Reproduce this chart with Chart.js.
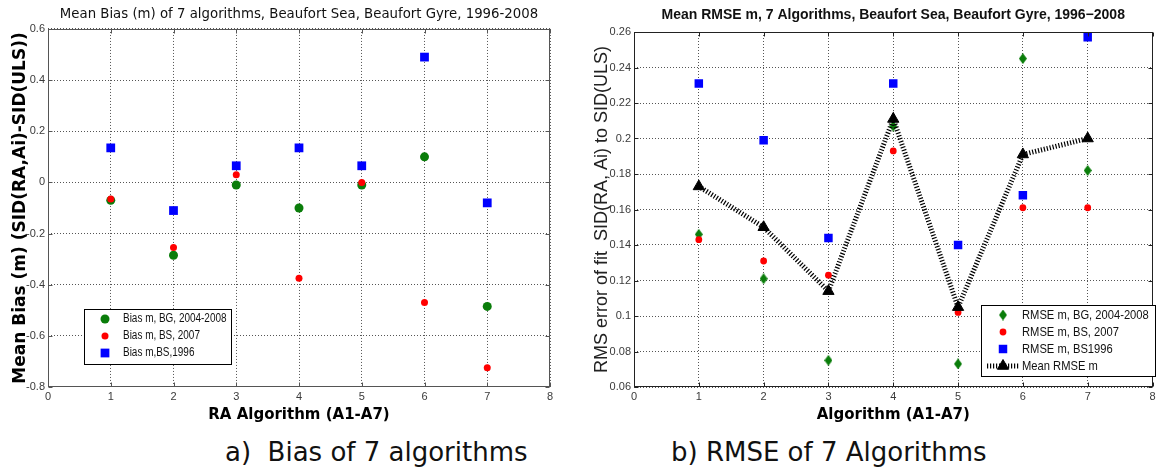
<!DOCTYPE html>
<html lang="en">
<head>
    <meta charset="UTF-8">
    <title>Mean Bias and RMSE of 7 algorithms - Beaufort Sea</title>
    <script src="https://cdn.jsdelivr.net/npm/chart.js"></script>
    <style>
        body { margin: 0; background: #fff; width: 1160px; height: 468px; overflow: hidden; position: relative; }
        #biasBox { position: absolute; left: 0; top: 0; width: 560px; height: 430px; }
        #rmseBox { position: absolute; left: 570px; top: 0; width: 590px; height: 430px; }
        .caption { position: absolute; top: 437px; font-family: "DejaVu Sans", sans-serif; font-size: 26px; line-height: 30px; color: #111; white-space: pre; }
    </style>
</head>
<body>
    <div id="biasBox"><canvas id="biasChart"></canvas></div>
    <div id="rmseBox"><canvas id="rmseChart"></canvas></div>
    <div class="caption" style="left:225px">a)  Bias of 7 algorithms</div>
    <div class="caption" style="left:671px">b) RMSE of 7 Algorithms</div>
    <script>
        // values
        const algorithms = [1, 2, 3, 4, 5, 6, 7];
        const xTicks = [0, 1, 2, 3, 4, 5, 6, 7, 8];

        const biasBG = [-0.07, -0.285, -0.01, -0.10, -0.01, 0.10, -0.485];
        const biasBS2007 = [-0.065, -0.255, 0.03, -0.375, 0.0, -0.47, -0.725];
        const biasBS1996 = [0.135, -0.11, 0.065, 0.135, 0.065, 0.49, -0.08];
        const biasTicks = [-0.8, -0.6, -0.4, -0.2, 0, 0.2, 0.4, 0.6];

        const rmseBG = [0.146, 0.121, 0.075, 0.207, 0.073, 0.245, 0.182];
        const rmseBS2007 = [0.143, 0.131, 0.123, 0.193, 0.102, 0.161, 0.161];
        const rmseBS1996 = [0.231, 0.199, 0.144, 0.231, 0.140, 0.168, 0.257];
        const rmseMean = [0.173, 0.150, 0.114, 0.211, 0.105, 0.191, 0.200];
        const rmseTicks = [0.06, 0.08, 0.1, 0.12, 0.14, 0.16, 0.18, 0.2, 0.22, 0.24, 0.26];

        const GREEN = '#0a7d0a', RED = '#ff0000', BLUE = '#0000ff';
        const tickFont = { family: '"Liberation Sans", sans-serif', size: 11 };

        function pts(values) {
            return algorithms.map((a, i) => ({ x: a, y: values[i] }));
        }

        function makeDiamond(w, h, color) {
            const c = document.createElement('canvas');
            c.width = w; c.height = h;
            const g = c.getContext('2d');
            g.fillStyle = color;
            g.beginPath();
            g.moveTo(w / 2, 0); g.lineTo(w, h / 2); g.lineTo(w / 2, h); g.lineTo(0, h / 2);
            g.closePath(); g.fill();
            return c;
        }

        // solid frame round the plot with small inward ticks, like matlab
        const framePlugin = {
            id: 'frame',
            afterDraw(chart, args, opts) {
                const { ctx, chartArea: a, scales } = chart;
                const L = Math.round(a.left) + 0.5, T = Math.round(a.top) + 0.5;
                const R = Math.round(a.right) - 0.5, B = Math.round(a.bottom) - 0.5;
                ctx.save();
                ctx.strokeStyle = opts.color;
                ctx.lineWidth = 1;
                ctx.strokeRect(L, T, R - L, B - T);
                ctx.beginPath();
                scales.x.ticks.forEach(t => {
                    const px = Math.round(scales.x.getPixelForValue(t.value)) + 0.5;
                    ctx.moveTo(px, B); ctx.lineTo(px, B - 4);
                    ctx.moveTo(px, T); ctx.lineTo(px, T + 4);
                });
                scales.y.ticks.forEach(t => {
                    const py = Math.round(scales.y.getPixelForValue(t.value)) + 0.5;
                    ctx.moveTo(L, py); ctx.lineTo(L + 4, py);
                    ctx.moveTo(R, py); ctx.lineTo(R - 4, py);
                });
                ctx.stroke();
                ctx.restore();
            }
        };

        // boxed legend inside the plot; text squeezed to look like a narrow font
        const boxLegend = {
            id: 'boxLegend',
            afterDraw(chart, args, o) {
                const ctx = chart.ctx;
                ctx.save();
                ctx.fillStyle = '#fff';
                ctx.fillRect(o.x, o.y, o.w, o.h);
                ctx.strokeStyle = '#000';
                ctx.lineWidth = 1;
                ctx.strokeRect(o.x + 0.5, o.y + 0.5, o.w, o.h);
                ctx.font = o.font;
                ctx.textBaseline = 'middle';
                ctx.textAlign = 'left';
                chart.data.datasets.forEach((ds, i) => {
                    const y = o.y + o.first + i * o.row;
                    if (ds.showLine) {
                        ctx.save();
                        ctx.strokeStyle = ds.borderColor;
                        ctx.lineWidth = ds.borderWidth;
                        ctx.setLineDash(ds.borderDash);
                        ctx.beginPath();
                        ctx.moveTo(o.lineX0, y); ctx.lineTo(o.lineX1, y);
                        ctx.stroke();
                        ctx.restore();
                    }
                    ctx.fillStyle = ds.backgroundColor;
                    ctx.strokeStyle = ds.borderColor;
                    Chart.helpers.drawPoint(ctx, {
                        pointStyle: ds.pointStyle, radius: ds.pointRadius, rotation: 0,
                        borderWidth: ds.pointBorderWidth || 0
                    }, o.markX, y);
                    ctx.save();
                    ctx.fillStyle = '#111';
                    ctx.translate(o.textX, y);
                    ctx.scale(o.squeeze, 1);
                    ctx.fillText(ds.label, 0, 0);
                    ctx.restore();
                });
                ctx.restore();
            }
        };

        function xAxis(title) {
            return {
                type: 'linear', min: 0, max: 8,
                afterBuildTicks: s => { s.ticks = xTicks.map(v => ({ value: v })); },
                afterFit: s => { s.height = 43; s.paddingLeft = 0; s.paddingRight = 0; },
                ticks: { color: '#3a3a3a', font: tickFont, padding: 3, callback: v => String(v) },
                grid: { color: '#555', drawTicks: false },
                border: { display: false, dash: [1, 2] },
                title: {
                    display: true, text: title, color: '#000',
                    font: { family: '"DejaVu Sans", sans-serif', size: 15, weight: 'bold' },
                    padding: { top: 0, bottom: 6 }
                }
            };
        }

        function yAxis(min, max, tickList, width, title) {
            return {
                type: 'linear', min: min, max: max,
                afterBuildTicks: s => { s.ticks = tickList.map(v => ({ value: v })); },
                afterFit: s => { s.width = width; s.paddingTop = 0; s.paddingBottom = 0; },
                ticks: { color: '#3a3a3a', font: tickFont, padding: 3, callback: v => String(v) },
                grid: { color: '#555', drawTicks: false },
                border: { display: false, dash: [1, 2] },
                title: title
            };
        }

        new Chart(document.getElementById('biasChart'), {
            type: 'scatter',
            data: {
                datasets: [
                    { label: 'Bias m, BG, 2004-2008', data: pts(biasBG), pointStyle: 'circle', pointRadius: 4.5,
                      backgroundColor: GREEN, borderColor: GREEN, pointBorderWidth: 0, order: 3 },
                    { label: 'Bias m, BS, 2007', data: pts(biasBS2007), pointStyle: 'circle', pointRadius: 3.5,
                      backgroundColor: RED, borderColor: RED, pointBorderWidth: 0, order: 2 },
                    { label: 'Bias m,BS,1996', data: pts(biasBS1996), pointStyle: 'rect', pointRadius: 6.2,
                      backgroundColor: BLUE, borderColor: BLUE, pointBorderWidth: 0, order: 1 }
                ]
            },
            options: {
                responsive: true, maintainAspectRatio: false, animation: false,
                layout: { padding: { left: 0, right: 10, top: 0, bottom: 0 } },
                scales: {
                    x: xAxis('RA Algorithm (A1-A7)'),
                    y: yAxis(-0.8, 0.6, biasTicks, 48, {
                        display: true, text: 'Mean Bias (m) (SID(RA,Ai)-SID(ULS))', color: '#000',
                        font: { family: '"DejaVu Sans", sans-serif', size: 17, weight: 'bold' },
                        padding: { top: 10, bottom: 0 }
                    })
                },
                plugins: {
                    legend: { display: false },
                    tooltip: { enabled: false },
                    title: {
                        display: true, fullSize: false, color: '#111',
                        text: 'Mean Bias (m) of 7 algorithms, Beaufort Sea, Beaufort Gyre, 1996-2008',
                        font: { family: '"DejaVu Sans", sans-serif', size: 13.3, weight: 'normal' },
                        padding: { top: 7, bottom: 6 }
                    },
                    frame: { color: '#555' },
                    boxLegend: { x: 84, y: 309, w: 147, h: 55, first: 10, row: 17, markX: 105, textX: 123,
                                 squeeze: 0.83, font: '12px "Liberation Sans", sans-serif' }
                }
            },
            plugins: [framePlugin, boxLegend]
        });

        new Chart(document.getElementById('rmseChart'), {
            type: 'scatter',
            data: {
                datasets: [
                    { label: 'RMSE m, BG, 2004-2008', data: pts(rmseBG), pointStyle: makeDiamond(8, 11, GREEN), pointRadius: 5,
                      backgroundColor: GREEN, borderColor: GREEN, pointBorderWidth: 0, order: 4 },
                    { label: 'RMSE m, BS, 2007', data: pts(rmseBS2007), pointStyle: 'circle', pointRadius: 3.4,
                      backgroundColor: RED, borderColor: RED, pointBorderWidth: 0, order: 3 },
                    { label: 'RMSE m, BS1996', data: pts(rmseBS1996), pointStyle: 'rect', pointRadius: 6,
                      backgroundColor: BLUE, borderColor: BLUE, pointBorderWidth: 0, order: 2 },
                    { label: 'Mean RMSE m', data: pts(rmseMean), showLine: true, pointStyle: 'triangle', pointRadius: 6.5,
                      backgroundColor: '#000', borderColor: '#000', borderWidth: 5, borderDash: [1.2, 1.8],
                      pointBorderWidth: 1, order: 1 }
                ]
            },
            options: {
                responsive: true, maintainAspectRatio: false, animation: false,
                layout: { padding: { left: 0, right: 2, top: 0, bottom: 0 } },
                scales: {
                    x: xAxis('Algorithm (A1-A7)'),
                    y: yAxis(0.06, 0.26, rmseTicks, 64, {
                        display: true, text: 'RMS error of fit  SID(RA, Ai) to SID(ULS)', color: '#222',
                        font: { family: '"Liberation Sans", sans-serif', size: 18, weight: 'normal' },
                        padding: { top: 21, bottom: 0 }
                    })
                },
                plugins: {
                    legend: { display: false },
                    tooltip: { enabled: false },
                    title: {
                        display: true, fullSize: false, color: '#111',
                        text: 'Mean RMSE m, 7 Algorithms, Beaufort Sea, Beaufort Gyre, 1996\u22122008',
                        font: { family: '"Liberation Sans", sans-serif', size: 14, weight: 'bold' },
                        padding: { top: 6.5, bottom: 8.7 }
                    },
                    frame: { color: '#222' },
                    boxLegend: { x: 411, y: 305, w: 174, h: 71, first: 10, row: 17, markX: 433, textX: 452,
                                 lineX0: 417, lineX1: 450,
                                 squeeze: 0.86, font: '13px "Liberation Sans", sans-serif' }
                }
            },
            plugins: [framePlugin, boxLegend]
        });
    </script>
</body>
</html>
